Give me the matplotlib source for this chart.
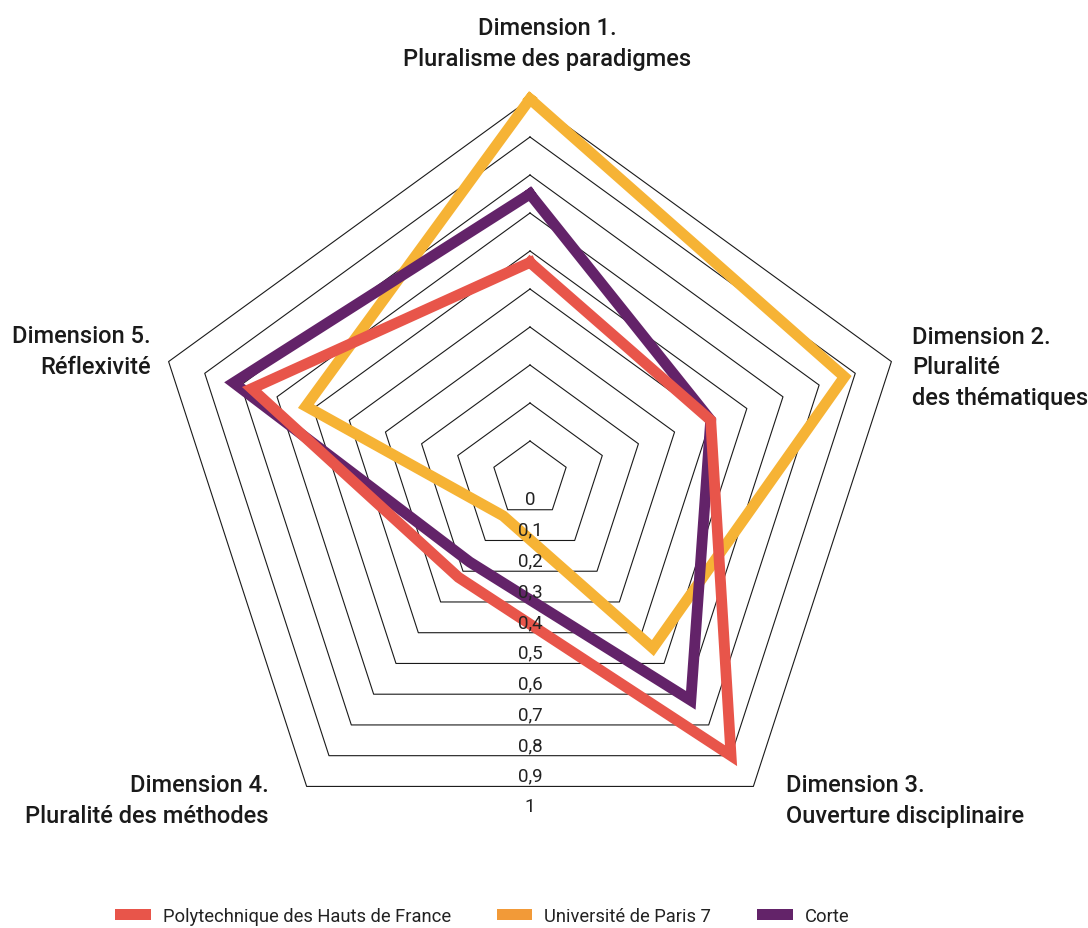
import numpy as np
import matplotlib.pyplot as plt
from matplotlib.patches import Patch

# axes of the radar, clockwise from the top
dimensions = [
    "Dimension 1.\nPluralisme des paradigmes",
    "Dimension 2.\nPluralité\ndes thématiques",
    "Dimension 3.\nOuverture disciplinaire",
    "Dimension 4.\nPluralité des méthodes",
    "Dimension 5.\nRéflexivité",
]
levels = [0, 0.1, 0.2, 0.3, 0.4, 0.5, 0.6, 0.7, 0.8, 0.9, 1]
level_labels = ["0", "0,1", "0,2", "0,3", "0,4", "0,5", "0,6", "0,7", "0,8", "0,9", "1"]

series_names = ["Polytechnique des Hauts de France", "Université de Paris 7", "Corte"]
polytechnique = [0.57, 0.50, 0.90, 0.32, 0.77]
paris7 = [1.00, 0.87, 0.55, 0.12, 0.62]
corte = [0.75, 0.50, 0.72, 0.27, 0.82]

line_colors = ["#E8554A", "#F6B335", "#632369"]
legend_colors = ["#E8554A", "#F29A38", "#632369"]

W, H = 1088, 929
CX, CY, SCALE = 530, 480, 380  # centre and radius of the 1.0 ring, in pixels

plt.rcParams["font.family"] = ["Roboto", "DejaVu Sans"]

fig = plt.figure(figsize=(W / 100, H / 100), dpi=100)
ax = fig.add_axes([0, 0, 1, 1])
ax.set_xlim(-CX / SCALE, (W - CX) / SCALE)
ax.set_ylim((CY - H) / SCALE, CY / SCALE)
ax.axis("off")

n = len(dimensions)
angles = np.pi / 2 - 2 * np.pi * np.arange(n) / n


def to_xy(values):
    v = np.asarray(values, dtype=float)
    x = v * np.cos(angles)
    y = v * np.sin(angles)
    return np.append(x, x[0]), np.append(y, y[0])


def px(x, y):
    return (x - CX) / SCALE, (CY - y) / SCALE


# pentagon grid
for lv in levels[1:]:
    gx, gy = to_xy([lv] * n)
    ax.plot(gx, gy, color="#1a1a1a", lw=0.8, zorder=1)

# series
for vals, col in zip([paris7, corte, polytechnique], [line_colors[1], line_colors[2], line_colors[0]]):
    sx, sy = to_xy(vals)
    ax.plot(sx, sy, color=col, lw=7.8, solid_joinstyle="miter", zorder=2)

# level labels under the bottom edge of each ring
cos36 = np.cos(np.pi / 5)
for lv, lab in zip(levels, level_labels):
    ax.text(0, -lv * cos36 - 20 / SCALE, lab, ha="center", va="center",
            fontsize=13.5, color="#222222", zorder=5)

# dimension titles
title_style = dict(fontsize=17, fontweight="medium", color="#1a1a1a", linespacing=1.42)
ax.text(*px(547, 44), dimensions[0], ha="center", va="center", **title_style)
ax.text(*px(912, 368), dimensions[1], ha="left", va="center", **title_style)
ax.text(*px(786, 801), dimensions[2], ha="left", va="center", **title_style)
ax.text(*px(269, 801), dimensions[3], ha="right", va="center", **title_style)
ax.text(*px(151, 352), dimensions[4], ha="right", va="center", **title_style)

handles = [Patch(facecolor=c, edgecolor="none") for c in legend_colors]
fig.legend(handles, series_names, loc="center left", bbox_to_anchor=(115 / W, 1 - 917 / H),
           ncol=3, frameon=False, fontsize=13.2, handlelength=1.95, handleheight=0.55,
           handletextpad=0.65, columnspacing=2.5, borderpad=0, borderaxespad=0,
           labelcolor="#222222")

fig.savefig("out.png", dpi=100)
